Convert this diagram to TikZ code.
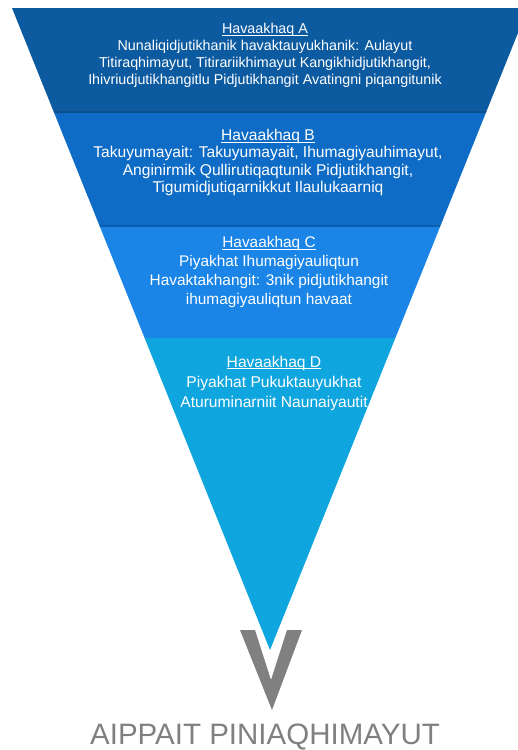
\documentclass[tikz,border=0pt]{standalone}
\usepackage{fontspec}
\setmainfont{Liberation Sans}
\usetikzlibrary{calc}
\definecolor{bandA}{RGB}{12,90,160}
\definecolor{bandB}{RGB}{15,108,198}
\definecolor{bandC}{RGB}{26,133,230}
\definecolor{bandD}{RGB}{15,165,222}
\definecolor{vgrey}{RGB}{128,128,128}
\newlength\hdrwd
\newcommand\hdrline[1]{\settowidth{\hdrwd}{#1}\rlap{\rule[-1.8pt]{\hdrwd}{0.8pt}}#1}
\tikzset{
	bandtext/.style={text=white, align=center, inner sep=0pt},
	bandedge/.style={line width=1.2pt, color=black, opacity=0.12}
}

\begin{document}
\begin{tikzpicture}[x=1pt, y=-1pt]
			%%%%% START %%%%%
			\useasboundingbox (0, 0) rectangle (518, 750);
			
			\begin{scope}
				\clip (0, 0) rectangle (518, 750);
				\clip (12, 8) -- (528, 8) -- (270, 650) -- cycle;
				\fill[bandA] (0, 8) rectangle (518, 113);
				\fill[bandB] (0, 113) rectangle (518, 227);
				\fill[bandC] (0, 227) rectangle (518, 338);
				\fill[bandD] (0, 338) rectangle (518, 650);
				\draw[bandedge] (0, 112) -- (518, 112);
				\draw[bandedge] (0, 226) -- (518, 226);
			\end{scope}
			
			\fill[vgrey] (240, 630) -- (272, 710) -- (302, 630) -- (287, 630) -- (271, 680) -- (255, 630) -- cycle;
			
			\node[bandtext, font=\fontsize{14.3}{16.8}\selectfont] (levelA) at (265, 55.5)
				{\hdrline{Havaakhaq A}\\Nunaliqidjutikhanik havaktauyukhanik: Aulayut\\Titiraqhimayut, Titirariikhimayut Kangikhidjutikhangit,\\Ihivriudjutikhangitlu Pidjutikhangit Avatingni piqangitunik};
			\node[bandtext, font=\fontsize{15.6}{17.3}\selectfont] (levelB) at (268, 162.5)
				{\hdrline{Havaakhaq B}\\Takuyumayait: Takuyumayait, Ihumagiyauhimayut,\\Anginirmik Qullirutiqaqtunik Pidjutikhangit,\\Tigumidjutiqarnikkut Ilaulukaarniq};
			\node[bandtext, font=\fontsize{15.4}{18.8}\selectfont] (levelC) at (269, 272)
				{\hdrline{Havaakhaq C}\\Piyakhat Ihumagiyauliqtun\\Havaktakhangit: 3nik pidjutikhangit\\ihumagiyauliqtun havaat};
			\node[bandtext, font=\fontsize{15.6}{20}\selectfont] (levelD) at (274, 383)
				{\hdrline{Havaakhaq D}\\Piyakhat Pukuktauyukhat\\Aturuminarniit Naunaiyautit};
			
			\node[text=vgrey, inner sep=0pt, font=\fontsize{29.5}{32}\selectfont] (caption) at (265, 737) {AIPPAIT PINIAQHIMAYUT};
			%%%%% END %%%%%
\end{tikzpicture}
\end{document}
